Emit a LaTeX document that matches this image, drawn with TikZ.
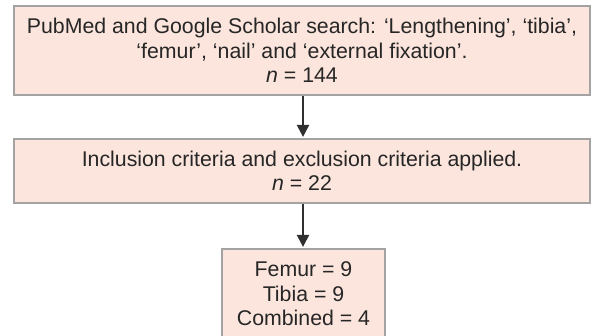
\documentclass[tikz,border=0pt]{standalone}
\usepackage{fontspec}
\setmainfont{Liberation Sans}
\usetikzlibrary{arrows.meta}
\definecolor{boxfill}{HTML}{FCE5DC}
\definecolor{boxline}{HTML}{A3A3A3}
\definecolor{inktext}{HTML}{262626}
\definecolor{inkline}{HTML}{303030}
\tikzset{
  stagebox/.style={draw=boxline, line width=1.4pt, fill=boxfill, text=inktext,
    align=center, inner sep=0pt, font=\fontsize{21.3}{24.5}\selectfont},
  flowarrow/.style={draw=inkline, line width=1.1pt,
    -{Triangle[width=12.5pt,length=12pt]}, shorten >=1.5pt}
}
\begin{document}
\begin{tikzpicture}[x=1pt,y=1pt]
\useasboundingbox (0,0) rectangle (594,-336);
\clip (0,0) rectangle (594,-336);
% search stage
\node[stagebox, minimum width=576pt, minimum height=89pt] (search) at (302,-50.5)
  {PubMed and Google Scholar search: ‘Lengthening’, ‘tibia’,\\
   ‘femur’, ‘nail’ and ‘external fixation’.\\
   \textit{n} = 144};
% screening stage
\node[stagebox, minimum width=576pt, minimum height=64pt] (screen) at (302,-171)
  {Inclusion criteria and exclusion criteria applied.\\
   \textit{n} = 22};
% final breakdown
\node[stagebox, minimum width=163pt, minimum height=90pt] (result) at (303.5,-294)
  {Femur = 9\\ Tibia = 9\\ Combined = 4};
% connectors
\draw[flowarrow] (search.south -| 303,0) -- (screen.north -| 303,0);
\draw[flowarrow] (screen.south -| 303,0) -- (result.north -| 303,0);
\end{tikzpicture}
\end{document}
